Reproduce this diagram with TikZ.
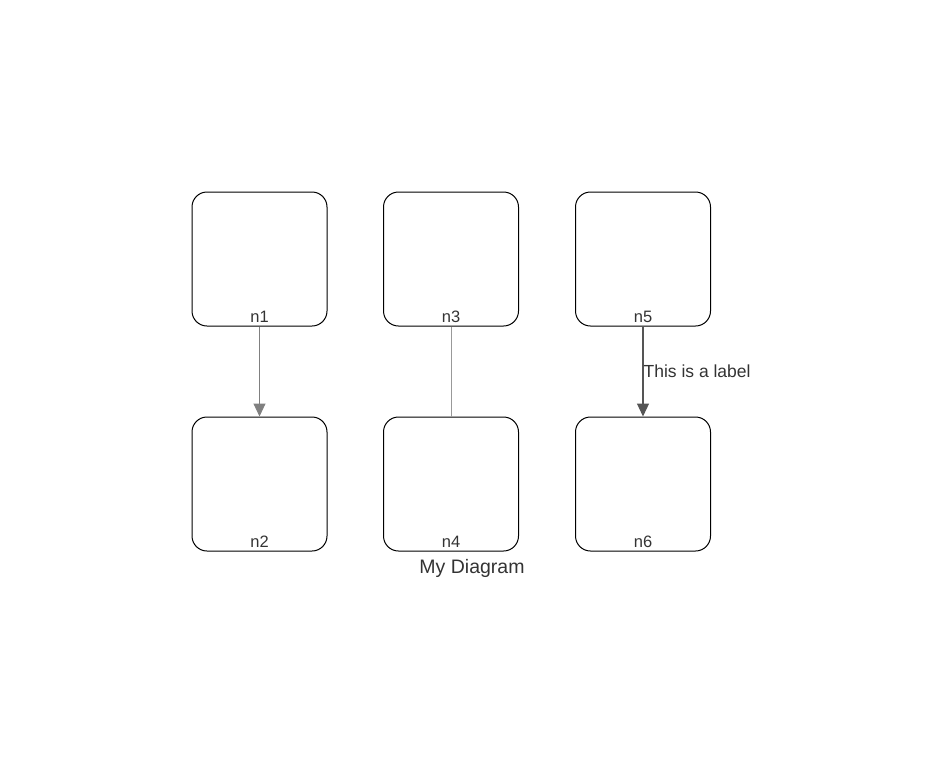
\documentclass[tikz,border=0pt]{standalone}
\usepackage{fontspec}
\setmainfont{Liberation Sans}
\usetikzlibrary{arrows.meta}
\definecolor{txt}{HTML}{333333}
\definecolor{edgeA}{HTML}{808080}
\definecolor{edgeB}{HTML}{999999}
\definecolor{edgeC}{HTML}{555555}
\tikzset{
  box/.style={draw=black, line width=1pt, rounded corners=15pt, minimum width=135pt, minimum height=134pt, inner sep=0pt},
  blab/.style={text=txt, inner sep=0pt, anchor=base, font=\fontsize{16.5}{19}\selectfont},
  tip/.style={-{Triangle[width=12pt,length=13pt]}}
}
\begin{document}
\begin{tikzpicture}[x=1pt,y=-1pt]
\useasboundingbox (0,0) rectangle (946,777);
\node[box] (n1) at (259.5,259) {};
\node[box] (n2) at (259.5,484) {};
\node[box] (n3) at (451,259) {};
\node[box] (n4) at (451,484) {};
\node[box] (n5) at (643,259) {};
\node[box] (n6) at (643,484) {};
\foreach \n in {n1,n2,n3,n4,n5,n6}{
  \node[blab] (\n-t) at ([yshift=4pt]\n.south) {\n};
}
\draw[edgeA, line width=1pt, tip] (n1) -- (n2);
\draw[edgeB, line width=1pt] (n3) -- (n4);
\draw[edgeC, line width=1.2pt, tip] (n5) -- (n6) node[pos=0.5, anchor=west, inner sep=0pt, text=txt, font=\fontsize{17.5}{20}\selectfont] (lab) {This is a label};
\node[text=txt, anchor=base, inner sep=0pt, font=\fontsize{19.5}{23}\selectfont] (title) at (472,573) {My Diagram};
\end{tikzpicture}
\end{document}
